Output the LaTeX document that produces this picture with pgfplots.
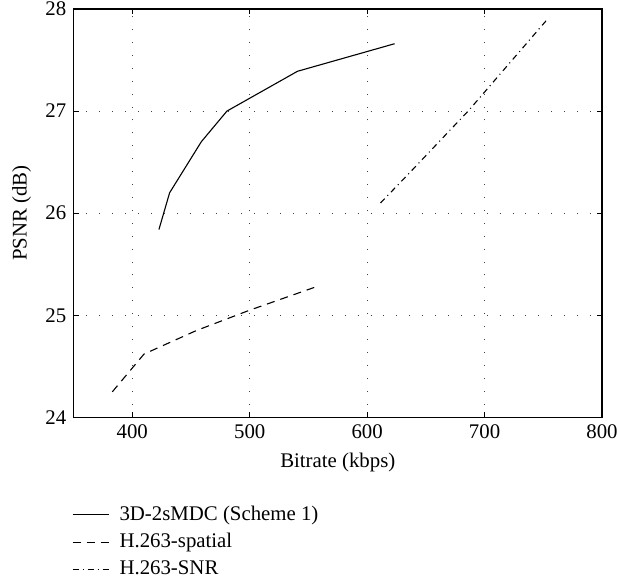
\documentclass[border=0pt]{standalone}
\usepackage{fontspec}
\setmainfont{Liberation Serif}
\usepackage{pgfplots}
\pgfplotsset{compat=1.18}

\begin{document}
\fontsize{10.4}{12}\selectfont
\begin{tikzpicture}
\begin{axis}[
  name=ax,
  scale only axis,
  width=264pt, height=204pt,
  xmin=350, xmax=800, ymin=24, ymax=28,
  xtick={400,500,...,800}, ytick={24,25,...,28},
  tick align=inside, major tick length=2.5pt,
  tick style={black, line width=0.5pt},
  grid=major,
  major grid style={black!75, line width=0.45pt, dash pattern=on 0.45pt off 6pt},
  axis line style={line width=0.6pt},
  /pgf/number format/assume math mode=true,
  tick label style={font=\fontsize{10.4}{12}\selectfont},
  label style={font=\fontsize{10.4}{12}\selectfont},
  xlabel={Bitrate (kbps)}, ylabel={PSNR (dB)},
  legend cell align=left,
  legend style={at={(0,0)}, anchor=north west, yshift=-40pt, xshift=-4pt,
    draw=none, fill=none, font=\fontsize{10.4}{12}\selectfont,
    row sep=1pt, /tikz/every odd column/.append style={column sep=3pt}},
  legend image code/.code={\draw[#1] (0cm,0cm) -- (0.64cm,0cm);},
]
\addplot[black, line width=0.55pt] coordinates {
  (422.7,25.84) (431.8,26.20) (458.8,26.70) (480.6,27.00) (540.7,27.39) (623.4,27.66)};
\addplot[black, line width=0.55pt, dash pattern=on 4pt off 3pt] coordinates {
  (383,24.25) (410,24.62) (454.5,24.85) (500,25.05) (556.8,25.28)};
\addplot[black, line width=0.55pt, dash pattern=on 3pt off 2pt on 0.5pt off 2pt] coordinates {
  (611.4,26.10) (639,26.43) (686,27.00) (754.3,27.91)};
\legend{3D-2sMDC (Scheme 1), H.263-spatial, H.263-SNR}
\end{axis}
\pgfresetboundingbox
\path[use as bounding box] ([xshift=-36.75pt,yshift=-83.2pt]ax.south west) rectangle ([xshift=7.5pt,yshift=4.5pt]ax.north east);
\end{tikzpicture}
\end{document}
